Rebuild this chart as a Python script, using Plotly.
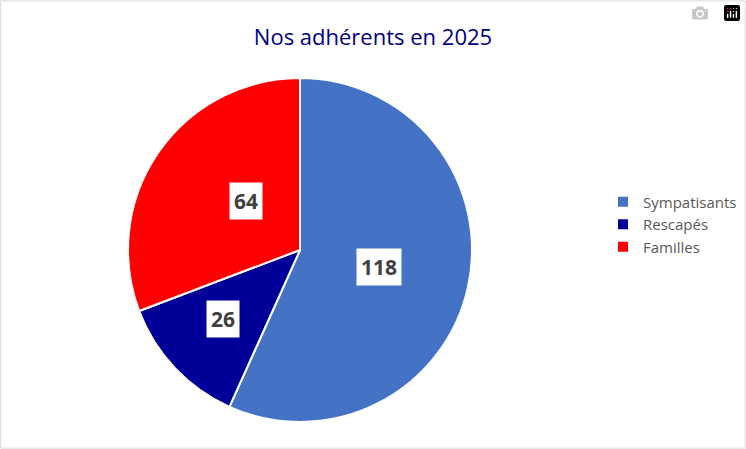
import math
import plotly.graph_objects as go

labels = ["Sympatisants", "Rescapés", "Familles"]
values = [118, 26, 64]
colors = ["#4472C4", "#000099", "#FF0000"]
label_radius = [0.47, 0.75, 0.5]

W, H = 746, 449
cx, cy, R = 300, 250, 172
dom_x = [(cx - R) / W, (cx + R) / W]
dom_y = [1 - (cy + R) / H, 1 - (cy - R) / H]

fig = go.Figure(go.Pie(
    labels=labels, values=values, sort=False, direction="clockwise", rotation=0,
    marker=dict(colors=colors, line=dict(color="white", width=2)),
    textinfo="none", hoverinfo="label+value",
    domain=dict(x=dom_x, y=dom_y),
))

total = sum(values)
cum = 0
anns = []
for v, rf in zip(values, label_radius):
    mid = (cum + v / 2) / total * 2 * math.pi
    cum += v
    dx = rf * R * math.sin(mid)
    dy = rf * R * math.cos(mid)
    anns.append(dict(x=(cx + dx) / W, y=1 - (cy - dy) / H, xref="paper", yref="paper",
                     text=f"<b>{v}</b>", showarrow=False, bgcolor="white",
                     font=dict(size=21, color="#404040", family="Open Sans"),
                     borderpad=4))

fig.update_layout(
    width=W, height=H, margin=dict(l=0, r=0, t=0, b=0),
    paper_bgcolor="white",
    font=dict(family="Open Sans", color="#595959"),
    title=dict(text="Nos adhérents en 2025", x=0.5, xanchor="center", y=1 - 37 / H, yanchor="middle",
               font=dict(size=22, color="#000080", family="Open Sans")),
    legend=dict(x=603 / W, y=0.5, xanchor="left", yanchor="middle",
                font=dict(size=15, color="#595959")),
    annotations=anns,
    shapes=[dict(type="rect", xref="paper", yref="paper", x0=0.001, y0=0.002, x1=0.999, y1=0.998,
                 line=dict(color="#D9D9D9", width=1))],
)
fig.write_html("out.html")
with open("out.html", encoding="utf-8") as f:
    html = f.read()
html = html.replace("<head>", "<head><style>html,body{margin:0;padding:0;overflow:hidden;}</style>", 1)
with open("out.html", "w", encoding="utf-8") as f:
    f.write(html)
